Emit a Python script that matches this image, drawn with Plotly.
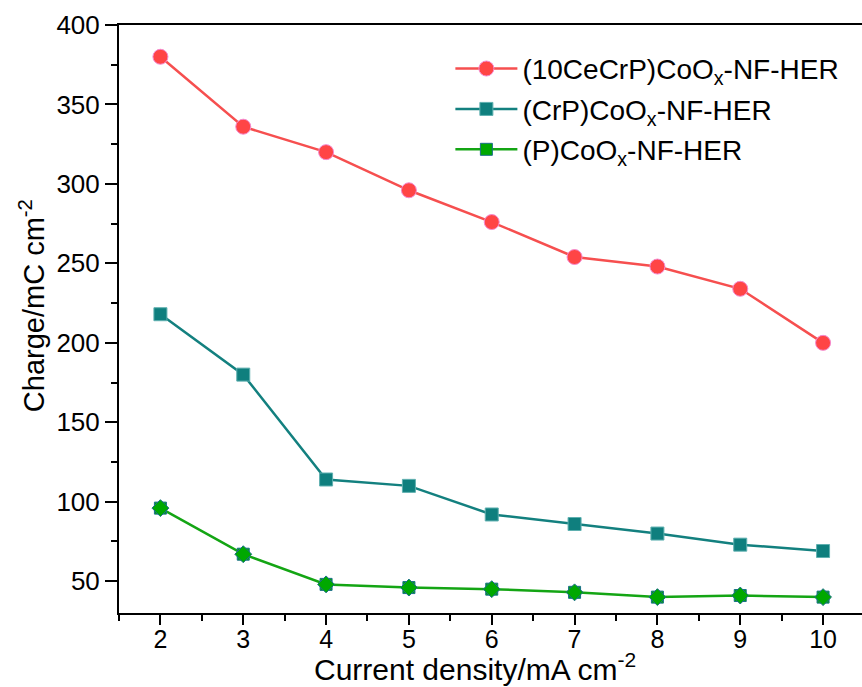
import plotly.graph_objects as go

# Current density (mA cm^-2)
current_density = [2, 3, 4, 5, 6, 7, 8, 9, 10]

# Charge (mC cm^-2) for each catalyst
charge_cecrp = [380, 336, 320, 296, 276, 254, 248, 234, 200]
charge_crp = [218, 180, 114, 110, 92, 86, 80, 73, 69]
charge_p = [96, 67, 48, 46, 45, 43, 40, 41, 40]

names = [
    "(10CeCrP)CoO<sub>x</sub>-NF-HER",
    "(CrP)CoO<sub>x</sub>-NF-HER",
    "(P)CoO<sub>x</sub>-NF-HER",
]

RED = "#F64F4F"
TEAL = "#13807F"
GREEN = "#14A514"
FONT = "Liberation Sans, Arial, sans-serif"

fig = go.Figure()

fig.add_trace(go.Scatter(
    x=current_density, y=charge_cecrp, name=names[0], mode="lines+markers",
    legendgroup="a",
    line=dict(color=RED, width=2.5),
    marker=dict(symbol="circle", size=15, color="#FF4545",
                line=dict(color="#F58AD0", width=1)),
))
fig.add_trace(go.Scatter(
    x=current_density, y=charge_crp, name=names[1], mode="lines+markers",
    legendgroup="b",
    line=dict(color=TEAL, width=2.5),
    marker=dict(symbol="square", size=13, color="#0F7F7E",
                line=dict(color="#5FB0B0", width=1)),
))
fig.add_trace(go.Scatter(
    x=current_density, y=charge_p, name=names[2], mode="lines+markers",
    legendgroup="c",
    line=dict(color=GREEN, width=2.5),
    marker=dict(symbol="square", size=12, color="#00A800",
                line=dict(color="#1A6F8A", width=1)),
))
# rotated square overlay giving the eight-pointed marker
fig.add_trace(go.Scatter(
    x=current_density, y=charge_p, mode="markers", showlegend=False,
    legendgroup="c", hoverinfo="skip",
    marker=dict(symbol="diamond", size=13, color="#00A800",
                line=dict(color="#1A6F8A", width=1)),
))

fig.update_layout(
    width=862, height=687,
    margin=dict(l=119, r=0, t=25, b=74),
    paper_bgcolor="white", plot_bgcolor="white",
    font=dict(family=FONT, size=26, color="black"),
    showlegend=True,
    legend=dict(
        x=0.446, y=0.968, xanchor="left", yanchor="top",
        bgcolor="rgba(0,0,0,0)", borderwidth=0,
        font=dict(family=FONT, size=28, color="black"),
        itemwidth=62, tracegroupgap=1,
    ),
    xaxis=dict(
        range=[1.5, 10.47], tickmode="array", tickvals=current_density,
        ticks="outside", ticklen=10, tickwidth=2, tickcolor="black",
        showline=True, linecolor="black", linewidth=2, mirror=True,
        showgrid=False, zeroline=False,
        tickfont=dict(family=FONT, size=25), ticklabelstandoff=-7,
        minor=dict(dtick=0.5, tick0=1.5, ticks="outside", ticklen=6,
                   tickwidth=2, tickcolor="black", showgrid=False),
    ),
    yaxis=dict(
        range=[30, 400], tickmode="array",
        tickvals=[50, 100, 150, 200, 250, 300, 350, 400],
        ticks="outside", ticklen=12, tickwidth=2, tickcolor="black",
        showline=True, linecolor="black", linewidth=2, mirror=False,
        showgrid=False, zeroline=False,
        tickfont=dict(family=FONT, size=26),
        minor=dict(dtick=25, tick0=0, ticks="outside", ticklen=6,
                   tickwidth=2, tickcolor="black", showgrid=False),
    ),
    annotations=[
        dict(text="Current density/mA cm<sup>-2</sup>",
             xref="paper", yref="paper", x=0.479, y=-0.092,
             xanchor="center", yanchor="middle", showarrow=False,
             font=dict(family=FONT, size=30)),
        dict(text="Charge/mC cm<sup>-2</sup>",
             xref="paper", yref="paper", x=-0.117, y=0.522,
             xanchor="center", yanchor="middle", showarrow=False,
             textangle=-90, font=dict(family=FONT, size=29)),
    ],
)

fig.write_html("out.html")
